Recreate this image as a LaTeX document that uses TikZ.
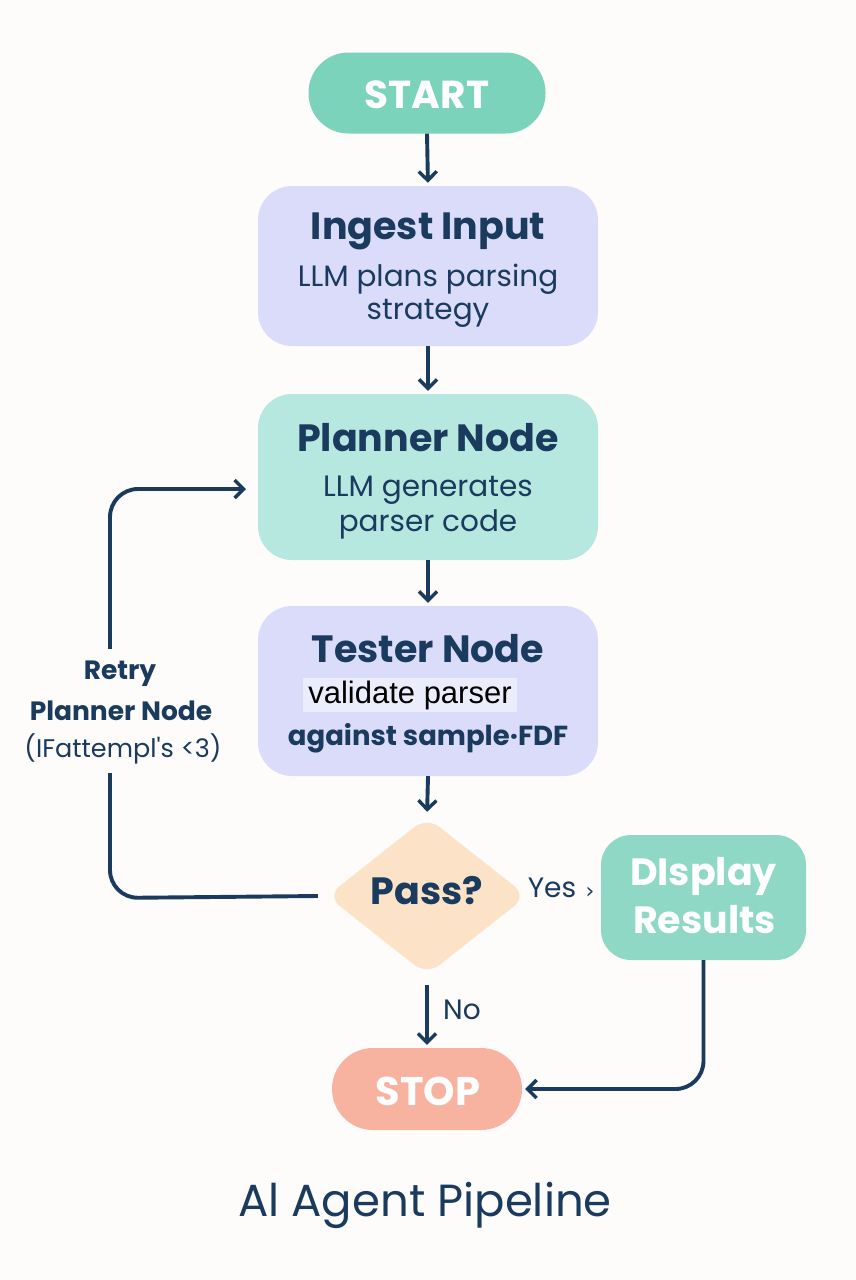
\documentclass[tikz,border=0pt]{standalone}
\usepackage{fontspec}
\setmainfont{Poppins}
\newfontfamily\robofont{Liberation Sans}
\newfontfamily\dejafont{DejaVu Sans}
\usetikzlibrary{arrows.meta,shapes.geometric}
\definecolor{navy}{HTML}{1A3A5E}
\definecolor{startc}{HTML}{7CD3BC}
\definecolor{lav}{HTML}{DADCFA}
\definecolor{mint}{HTML}{B6E8E0}
\definecolor{peach}{HTML}{FCE3C8}
\definecolor{dispc}{HTML}{8FD8C5}
\definecolor{stopc}{HTML}{F8B3A0}
\definecolor{bg}{HTML}{FDFCFA}
\tikzset{
  stepbox/.style={draw=none, rectangle, rounded corners=34pt, minimum width=340pt, inner sep=0pt},
  pill/.style={draw=none, rectangle, inner sep=0pt},
  ttl/.style={font=\fontsize{38}{44}\selectfont\bfseries, text=navy, inner sep=0pt},
  wttl/.style={font=\fontsize{38}{44}\selectfont\bfseries, text=white, inner sep=0pt},
  body/.style={font=\fontsize{29.5}{34}\selectfont, text=navy, inner sep=0pt},
  lbl/.style={font=\fontsize{28}{32}\selectfont, text=navy, inner sep=1pt},
  arr/.style={draw=navy, line width=3.9pt, -{Straight Barb[length=9pt,width=18pt,line width=3.4pt]}},
}
\begin{document}
\begin{tikzpicture}[x=1pt,y=-1pt]
\fill[bg] (0,0) rectangle (856,1280);
\useasboundingbox (0,0) rectangle (856,1280);

% nodes
\node[pill, fill=startc, rounded corners=40pt, minimum width=237pt, minimum height=81pt] (start) at (427,93) {};
\node[font=\fontsize{39}{44}\selectfont\bfseries, text=white, inner sep=0pt] (starttxt) at (427,95) {START};

\node[stepbox, fill=lav, minimum height=160pt] (ingest) at (428,266) {};
\node[ttl] (ingestT) at (428,231) {Ingest Input};
\node[body] (ingestA) at (428,279) {LLM plans parsing};
\node[body] (ingestB) at (428,313) {strategy};

\node[stepbox, fill=mint, minimum height=166pt] (planner) at (428,477) {};
\node[ttl] (plannerT) at (428,438) {Planner Node};
\node[body] (plannerA) at (428,490) {LLM generates};
\node[body] (plannerB) at (428,524) {parser code};

\node[stepbox, fill=lav, minimum height=170pt] (tester) at (428,691) {};
\node[ttl] (testerT) at (428,649) {Tester Node};
\node[font=\fontsize{31}{34}\selectfont\robofont, text=black, fill=lav!50!white, inner xsep=5pt, inner ysep=3pt] (testerA) at (410,695) {validate parser};
\node[font=\fontsize{27.5}{32}\selectfont\bfseries, text=navy, inner sep=0pt] (testerB) at (428,738) {against sample·FDF};

\node[diamond, fill=peach, rounded corners=16pt, minimum width=200pt, minimum height=158pt, inner sep=0pt] (pass) at (427,896) {};
\node[ttl] (passT) at (427,891) {Pass?};

\node[pill, fill=dispc, rounded corners=30pt, minimum width=205pt, minimum height=125pt] (display) at (703.5,897.5) {};
\node[wttl] (dispA) at (703.5,876) {DIsplay};
\node[wttl] (dispB) at (704.5,920) {Results};

\node[pill, fill=stopc, rounded corners=41pt, minimum width=190pt, minimum height=82pt] (stop) at (427,1089) {};
\node[font=\fontsize{40}{44}\selectfont\bfseries, text=white, inner sep=0pt] (stoptxt) at (428,1091) {STOP};

% connectors
\draw[arr, shorten >=3pt] (start.south) -- (ingest.north);
\draw[arr, shorten >=3pt] (ingest.south) -- (planner.north);
\draw[arr, shorten >=3pt] (planner.south) -- (tester.north);
\draw[arr, shorten >=5pt] (tester.south) -- (pass.north);
\draw[arr, shorten <=10pt, shorten >=3pt] (pass.south) -- (stop.north);

\coordinate (loopend) at (246,489);
\draw[arr, rounded corners=28pt] ([xshift=-9pt]pass.west) -- (110,898) -- (110,489) -- (loopend);
\draw[arr, rounded corners=28pt, shorten >=3pt] (display.south) |- (stop.east);

% labels
\node[fill=bg, minimum width=200pt, minimum height=124pt, inner sep=0pt] (retrybg) at (120,711) {};
\node[lbl, font=\fontsize{26.5}{30}\selectfont\bfseries] (retryA) at (120,674) {Retry};
\node[lbl, font=\fontsize{26.5}{30}\selectfont\bfseries] (retryB) at (121,711) {Planner Node};
\node[lbl, font=\fontsize{25.5}{30}\selectfont] (retryC) at (123,749) {(IFattempl\textquotesingle s <3)};
\node[lbl] (no) at (462,1010) {No};
\node[lbl] (yes) at (552,888) {Yes};
\node[font=\fontsize{22}{26}\selectfont\dejafont, text=navy, inner sep=0pt] (yesmark) at (590,893) {›};

\node[font=\fontsize{45}{50}\selectfont, text=navy, inner sep=0pt] (title) at (425,1205) {Al Agent Pipeline};
\end{tikzpicture}
\end{document}
